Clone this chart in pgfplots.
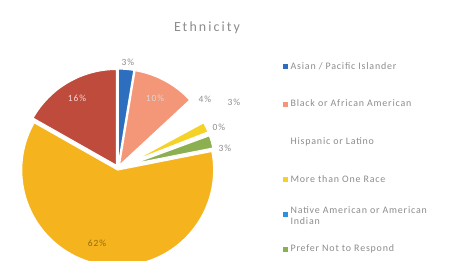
\documentclass[border=0pt]{standalone}
\usepackage{pgfplots}
\pgfplotsset{compat=1.18}
\usepackage{pgfplotstable}
\usepackage{fontspec}
\setmainfont{Carlito}

\definecolor{asian}{RGB}{45,110,190}
\definecolor{black2}{RGB}{244,150,120}
\definecolor{hisp}{RGB}{255,255,255}
\definecolor{more}{RGB}{245,210,40}
\definecolor{native}{RGB}{45,145,220}
\definecolor{prefer}{RGB}{140,175,80}
\definecolor{white2}{RGB}{245,180,30}
\definecolor{other}{RGB}{190,75,60}
\definecolor{txt}{RGB}{140,140,140}

\pgfplotstableread{
name   pct   exp rad
Asian  2.6   3   96
Black  10.5  3   96
Hisp   4.0   15  82
More   2.0   15  82
Native 0.3   15  82
Prefer 2.5   15  82
White  61.3  2   96
Other  16.8  3   96
}\slices
\pgfplotstablecreatecol[create col/expr accum={\pgfmathaccuma + \thisrow{pct}}{0}]{cend}\slices

\pgfdeclareplotmark{wedge}{%
  \pgfmathsetmacro\aone{90-3.6*(\wend-\wpct)}%
  \pgfmathsetmacro\atwo{90-3.6*\wend}%
  \pgfmathsetmacro\amid{(\aone+\atwo)/2}%
  \pgfpathmoveto{\pgfpointpolar{\amid}{\wexp bp}}%
  \pgfpathlineto{\pgfpointadd{\pgfpointpolar{\amid}{\wexp bp}}{\pgfpointpolar{\aone}{\wrad bp}}}%
  \pgfpatharc{\aone}{\atwo}{\wrad bp}%
  \pgfpathclose
  \pgfusepathqfillstroke
}

\pgfplotsset{
  wedge/.style={only marks, mark=wedge,
    mark options={draw=white, fill=#1, line width=1.2bp},
    visualization depends on={\thisrow{pct} \as \wpct},
    visualization depends on={\thisrow{cend} \as \wend},
    visualization depends on={\thisrow{exp} \as \wexp},
    visualization depends on={\thisrow{rad} \as \wrad},
    legend image code/.code={\fill[#1] (0bp,-2bp) rectangle (4bp,2bp);}},
}

\begin{document}
\begin{tikzpicture}
\begin{axis}[name=pie, scale only axis, width=452bp, height=261bp,
  xmin=0, xmax=452, ymin=0, ymax=261, hide axis,
  clip=true, clip marker paths=true,
  legend style={at={(axis cs:283,200)}, anchor=north west, draw=none, fill=none,
    font=\fontsize{10}{11.5}\selectfont\addfontfeatures{LetterSpace=8}, text=txt, row sep=27.3bp,
    inner sep=0pt, nodes={inner ysep=1bp, inner xsep=3bp}},
  legend cell align=left]
\addplot[wedge=asian] table[x expr=118, y expr=93, skip coords between index={1}{8}] {\slices};
\addlegendentry{Asian / Pacific Islander}
\addplot[wedge=black2] table[x expr=118, y expr=93, skip coords between index={0}{1}, skip coords between index={2}{8}] {\slices};
\addlegendentry{Black or African American}
\addplot[wedge=hisp] table[x expr=118, y expr=93, skip coords between index={0}{2}, skip coords between index={3}{8}] {\slices};
\addlegendentry{Hispanic or Latino}
\addplot[wedge=more] table[x expr=118, y expr=93, skip coords between index={0}{3}, skip coords between index={4}{8}] {\slices};
\addlegendentry{More than One Race}
\addplot[wedge=native] table[x expr=118, y expr=93, skip coords between index={0}{4}, skip coords between index={5}{8}] {\slices};
\addlegendentry{\smash{\begin{tabular}[t]{@{}l@{}}Native American or American\\Indian\end{tabular}}}
\addplot[wedge=prefer] table[x expr=118, y expr=93, skip coords between index={0}{5}, skip coords between index={6}{8}] {\slices};
\addlegendentry{Prefer Not to Respond}
\addplot[wedge=white2, forget plot] table[x expr=118, y expr=93, skip coords between index={0}{6}, skip coords between index={7}{8}] {\slices};
\addplot[wedge=other, forget plot] table[x expr=118, y expr=93, skip coords between index={0}{7}] {\slices};

\node[text=txt] at (axis cs:207,233) {\fontsize{14}{16}\selectfont\addfontfeatures{LetterSpace=15}Ethnicity};
\begin{scope}[every node/.style={font=\fontsize{9.5}{10}\selectfont\addfontfeatures{LetterSpace=10}}]
\node[text=txt] at (axis cs:128,199) {3\%};
\node[text=white!85!black] at (axis cs:155,163) {10\%};
\node[text=txt] at (axis cs:205,162) {4\%};
\node[text=txt] at (axis cs:234,159) {3\%};
\node[text=txt] at (axis cs:219,134) {0\%};
\node[text=txt] at (axis cs:225,113) {3\%};
\node[text=white!80!other] at (axis cs:77,163) {16\%};
\node[text=white2!60!black] at (axis cs:97,18) {62\%};
\end{scope}
\end{axis}
\pgfresetboundingbox
\path[use as bounding box] (pie.south west) rectangle (pie.north east);
\end{tikzpicture}
\end{document}
